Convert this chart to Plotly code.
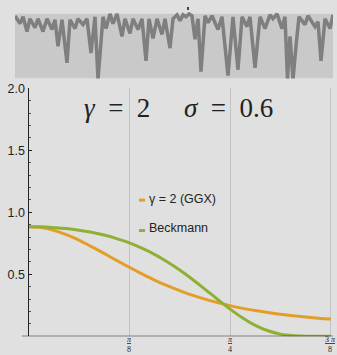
import plotly.graph_objects as go

W, H = 337, 355
def fx(px): return px / W
def fy(py): return 1 - py / H

# ---------------- data ----------------
theta = [0.0, 0.0491, 0.0982, 0.1473, 0.1963, 0.2454, 0.2945, 0.3436, 0.3927,
         0.4418, 0.4909, 0.5400, 0.5890, 0.6381, 0.6872, 0.7363, 0.7854,
         0.8345, 0.8836, 0.9327, 0.9817, 1.0308, 1.0799, 1.1290, 1.1781]
ggx = [0.884, 0.877, 0.855, 0.820, 0.776, 0.724, 0.669, 0.612, 0.557, 0.504,
       0.454, 0.409, 0.369, 0.332, 0.300, 0.272, 0.248, 0.226, 0.208, 0.192,
       0.178, 0.166, 0.156, 0.147, 0.140]
beckmann = [0.884, 0.883, 0.877, 0.869, 0.856, 0.839, 0.817, 0.788, 0.754, 0.711,
            0.661, 0.602, 0.535, 0.461, 0.381, 0.299, 0.220, 0.148, 0.088, 0.045,
            0.018, 0.006, 0.001, 0.000, 0.000]
series_names = ["γ = 2 (GGX)", "Beckmann"]
x_tickvals = [0.3927, 0.7854, 1.1781]
x_ticktext = ["<u><i>π</i></u><br>8", "<u><i>π</i></u><br>4", "<u>3 <i>π</i></u><br>8"]
y_tickvals = [0.5, 1.0, 1.5, 2.0]
y_ticktext = ["0.5", "1.0", "1.5", "2.0"]

profile_x = [15, 20, 23, 27, 30, 35, 38, 43, 47, 52, 55, 58, 62, 67, 70, 75, 78, 83,
             87, 91, 95, 98, 103, 106, 110, 113, 117, 122, 125, 130, 133, 138, 142,
             146, 149, 153, 157, 162, 165, 170, 173, 177, 180, 183, 186, 189, 192,
             195, 198, 201, 205, 208, 212, 218, 222, 228, 233, 238, 242, 247, 250,
             255, 260, 265, 270, 273, 277, 282, 285, 287.5, 290, 293, 296, 299, 305,
             308, 315, 318, 321, 325, 330, 333]
profile_h = [64, 56, 63, 48, 61, 52, 61, 48, 61, 50, 60, 33, 60, 16, 60, 51, 61, 55,
             61, 26, 63, -1, 63, 51, 66, 56, 66, 43, 61, 46, 61, 50, 61,
             18, 61, 41, 61, 45, 61, 31, 61, 65, 59, 65, 63, 66, 64,
             40, 61, 7, 64, 57, 64, 50, 63, 3, 63, 9, 63, 53, 63,
             11, 63, 51, 65, 61, 66, 51, 63, -1, 43, -1, 33, 63, 55,
             64, 53, 58, 18, 61, 51, 65]

ORANGE = "#E29E26"
GREEN = "#8FB032"
BG = "#e0e0e0"
INK = "#222222"
SERIF = "Liberation Serif, DejaVu Serif, serif"
SANS = "Liberation Sans, Arial, sans-serif"

fig = go.Figure()

fig.add_trace(go.Scatter(x=profile_x, y=profile_h, mode="lines",
                         line=dict(color="#7f7f7f", width=3.5),
                         xaxis="x2", yaxis="y2", showlegend=False, hoverinfo="skip"))

fig.add_trace(go.Scatter(x=theta, y=ggx, mode="lines", name=series_names[0],
                         line=dict(color=ORANGE, width=3, shape="spline"),
                         showlegend=False))
fig.add_trace(go.Scatter(x=theta, y=beckmann, mode="lines", name=series_names[1],
                         line=dict(color=GREEN, width=3, shape="spline"),
                         showlegend=False))

shapes = [
    dict(type="rect", xref="x2", yref="y2", x0=15, x1=333, y0=0, y1=66,
         fillcolor="#c9c9c9", line=dict(width=0), layer="below"),
    dict(type="line", xref="paper", yref="paper", x0=fx(188), x1=fx(188),
         y0=fy(0), y1=fy(3), line=dict(color="#111", width=1.5)),
    dict(type="line", xref="paper", yref="y", x0=fx(22), x1=fx(333), y0=0, y1=0,
         line=dict(color=INK, width=1.2), layer="above"),
    dict(type="rect", xref="paper", yref="paper", x0=fx(139), x1=fx(145),
         y0=fy(198.5), y1=fy(195.5), fillcolor=ORANGE, line=dict(width=0)),
    dict(type="rect", xref="paper", yref="paper", x0=fx(139), x1=fx(145),
         y0=fy(229.5), y1=fy(226.5), fillcolor=GREEN, line=dict(width=0)),
]

annotations = [
    dict(text="<i>γ</i>\u2002=\u20022", x=fx(116.5), y=fy(103), xref="paper", yref="paper",
         showarrow=False, xanchor="center", yanchor="middle",
         font=dict(family=SERIF, size=27, color=INK)),
    dict(text="<i>σ</i>\u2002=\u20020.6", x=fx(228), y=fy(103), xref="paper", yref="paper",
         showarrow=False, xanchor="center", yanchor="middle",
         font=dict(family=SERIF, size=27, color=INK)),
    dict(text=series_names[0], x=fx(147), y=fy(196), xref="paper", yref="paper",
         showarrow=False, xanchor="left", yanchor="middle",
         font=dict(family=SANS, size=12.5, color=INK)),
    dict(text=series_names[1], x=fx(147), y=fy(225.5), xref="paper", yref="paper",
         showarrow=False, xanchor="left", yanchor="middle",
         font=dict(family=SANS, size=12.5, color=INK)),
]
for v, t in zip(x_tickvals, x_ticktext):
    annotations.append(dict(text=t, x=v, y=fy(344), xref="x", yref="paper",
                            showarrow=False, xanchor="center", yanchor="middle",
                            borderpad=0,
                            font=dict(family=SERIF, size=8, color=INK)))

fig.update_layout(
    width=W, height=H,
    margin=dict(l=0, r=0, t=0, b=0),
    paper_bgcolor=BG, plot_bgcolor=BG,
    showlegend=False,
    shapes=shapes, annotations=annotations,
    xaxis=dict(domain=[fx(28.5), fx(333)], range=[0, (333 - 28.5) / 256.7],
               tickvals=x_tickvals, showticklabels=False,
               showgrid=True, gridcolor="#c4c4c4", gridwidth=1,
               zeroline=False, showline=False, ticks=""),
    yaxis=dict(domain=[fy(336), fy(83)], range=[0, 2],
               tickvals=y_tickvals, ticktext=y_ticktext,
               showgrid=False, zeroline=False,
               showline=True, linecolor=INK, linewidth=1.2,
               ticks="inside", ticklen=3, tickcolor=INK,
               minor=dict(ticks="inside", ticklen=2, dtick=0.1, tick0=0, tickcolor="#555"),
               tickfont=dict(family=SANS, size=12.5, color=INK)),
    xaxis2=dict(domain=[fx(15), fx(333)], range=[15, 333], anchor="y2",
                visible=False, showgrid=False, zeroline=False),
    yaxis2=dict(domain=[fy(73), fy(2)], range=[0, 71], anchor="x2",
                visible=False, showgrid=False, zeroline=False),
)

fig.write_html("out.html")
